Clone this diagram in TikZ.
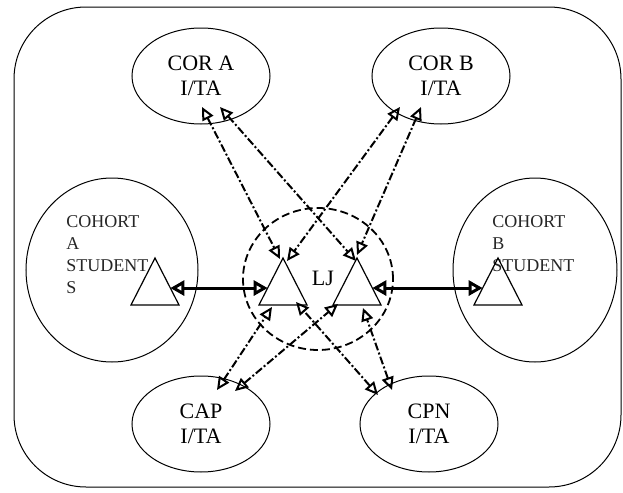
\documentclass[tikz,border=0pt]{standalone}
\usepackage{fontspec}
\setmainfont{Liberation Serif}
\usetikzlibrary{arrows.meta, calc, shapes.geometric}

\begin{document}
\begin{tikzpicture}[
  x=0.5pt, y=-0.5pt,
  group/.style={draw, ellipse, line width=0.5pt, inner sep=0pt, minimum width=69pt, minimum height=48pt, align=center, font=\fontsize{11}{12.5}\selectfont},
  cohort/.style={draw, ellipse, line width=0.5pt, minimum width=86pt, minimum height=92pt},
  cohorttext/.style={inner sep=0pt, anchor=north west, align=left, text=black!85, font=\fontsize{9}{11}\selectfont},
  member/.style={draw, line width=0.6pt, regular polygon, regular polygon sides=3, minimum size=27.7pt, inner sep=0pt, outer sep=0pt, yscale=1.13, transform shape, anchor=corner 1},
  link/.style={{Triangle[open, length=6.5pt, width=6pt]}-{Triangle[open, length=6.5pt, width=6pt]}, line width=1pt, dash pattern=on 4pt off 1.2pt on 1pt off 1.2pt},
  bond/.style={{Triangle[open, length=7pt, width=7.5pt]}-{Triangle[open, length=7pt, width=7.5pt]}, line width=1.5pt}
]
\useasboundingbox (0,0) rectangle (623,493);
\draw[line width=0.5pt, rounded corners=36pt] (14,7) rectangle (621,487);

% teaching groups
\node[group] (cora) at (201,76) {COR A\\I/TA};
\node[group] (corb) at (441,76) {COR B\\I/TA};
\node[group] (cap) at (201,424) {CAP\\I/TA};
\node[group] (cpn) at (429,424) {CPN\\I/TA};

% cohorts
\node[cohort] (cohorta) at (112,270) {};
\node[cohort, minimum width=82pt] (cohortb) at (535,270) {};
\node[cohorttext] (cohortalabel) at (66,215) {COHORT\\A\\STUDENT\\S};
\node[cohorttext] (cohortblabel) at (492,215) {COHORT\\B\\STUDENT};

% LJ
\node[draw, ellipse, line width=0.9pt, dash pattern=on 4pt off 2pt, minimum width=75pt, minimum height=71pt] (lj) at (318,279) {};
\node[font=\fontsize{11}{12.5}\selectfont] (ljlabel) at (323,278) {LJ};

\node[member] (ta) at (155,258) {};
\node[member] (tb) at (498,258) {};
\node[member] (lt) at (283,258) {};
\node[member] (rt) at (357,258) {};

\draw[bond] ($(ta.corner 1)!0.64!(ta.corner 3)$) -- ($(lt.corner 1)!0.64!(lt.corner 2)$);
\draw[bond] ($(rt.corner 1)!0.64!(rt.corner 3)$) -- ($(tb.corner 1)!0.64!(tb.corner 2)$);

\draw[link] ($(cora)+(1,31)$) -- ($(lt.corner 1)+(-3,1)$);
\draw[link] ($(cora)+(19,31)$) -- ($(rt.corner 1)+(-1,3)$);
\draw[link] ($(corb)+(-41,31)$) -- ($(lt.corner 1)+(4,3)$);
\draw[link] ($(corb)+(-20,31)$) -- ($(rt.corner 1)+(0,-3)$);
\draw[link] ($(cap)+(16,-34)$) -- ($(lt.corner 2)+(13,2)$);
\draw[link] ($(cap)+(34,-33)$) -- ($(rt.corner 2)+(5,-1)$);
\draw[link] ($(cpn)+(-51,-29)$) -- ($(lt.corner 3)+(-11,-3)$);
\draw[link] ($(cpn)+(-37,-34)$) -- ($(rt.corner 3)+(-18,3)$);
\end{tikzpicture}
\end{document}
